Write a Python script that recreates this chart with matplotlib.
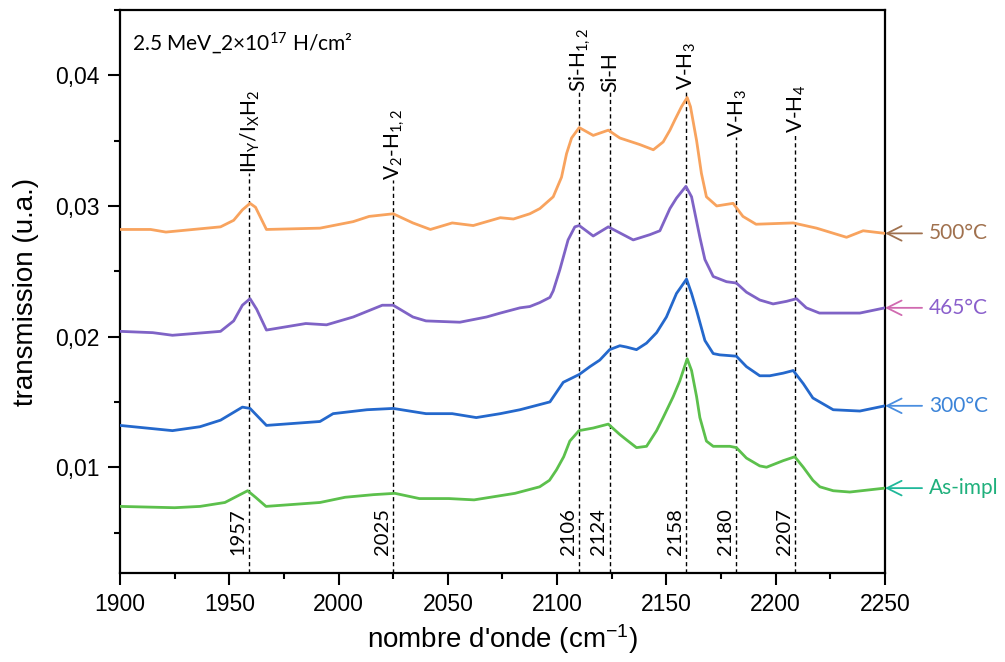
# Spectres IR - recuit H implanté
import matplotlib
matplotlib.use('Agg')
import matplotlib.pyplot as plt
from matplotlib.ticker import MultipleLocator, FuncFormatter

plt.rcParams['font.family'] = ['Liberation Sans', 'DejaVu Sans']
plt.rcParams['mathtext.fontset'] = 'custom'
plt.rcParams['mathtext.rm'] = 'Lato'
plt.rcParams['mathtext.it'] = 'Lato:italic'
plt.rcParams['mathtext.bf'] = 'Lato:bold'
plt.rcParams['mathtext.sf'] = 'Liberation Sans'

# données
x_500 = [1900, 1914, 1921, 1946, 1952, 1956, 1959.5, 1962, 1967, 1991.5, 2006.7, 2014, 2025, 2034,
         2042, 2052, 2061.6, 2074, 2080, 2087.5, 2092.1, 2098.2, 2102, 2104.3, 2106.6, 2110.1,
         2116.5, 2123.4, 2128.7, 2137.8, 2144, 2148.5, 2151.6, 2153.9, 2156.9, 2159.5, 2161,
         2163.8, 2166, 2168.3, 2173, 2180.5, 2185, 2191, 2208, 2218.7, 2232.4, 2240, 2250]
y_500 = [0.0282, 0.0282, 0.0280, 0.0284, 0.0289, 0.0297, 0.0302, 0.0299, 0.0282, 0.0283, 0.0288,
         0.0292, 0.0294, 0.0287, 0.0282, 0.0287, 0.0285, 0.0291, 0.0290, 0.0294, 0.0298, 0.0307,
         0.0322, 0.0340, 0.0352, 0.0360, 0.0354, 0.0358, 0.0352, 0.0347, 0.0343, 0.0349, 0.0358,
         0.0366, 0.0376, 0.0383, 0.0376, 0.0350, 0.0325, 0.0307, 0.0300, 0.0302, 0.0292, 0.0286,
         0.0287, 0.0283, 0.0276, 0.0281, 0.0279]

x_465 = [1900, 1915, 1924, 1946, 1952, 1956, 1959.5, 1962.5, 1967, 1985, 1994.5, 2006.7, 2020, 2025,
         2034, 2040, 2055.5, 2067.7, 2074, 2083, 2087.5, 2092, 2096.7, 2098.2, 2101.2, 2105, 2108.1,
         2110.1, 2116.5, 2123.4, 2134.8, 2142.4, 2147, 2151.6, 2154.6, 2158.9, 2161.5, 2165.3,
         2167.6, 2171.4, 2177.5, 2182, 2186.6, 2192.7, 2198.8, 2205, 2209.5, 2214, 2220, 2238.5,
         2250]
y_465 = [0.0204, 0.0203, 0.0201, 0.0204, 0.0212, 0.0224, 0.0229, 0.0221, 0.0205, 0.0210, 0.0209,
         0.0215, 0.0224, 0.0224, 0.0215, 0.0212, 0.0211, 0.0215, 0.0218, 0.0222, 0.0223, 0.0226,
         0.0230, 0.0235, 0.0251, 0.0274, 0.0284, 0.0285, 0.0277, 0.0284, 0.0274, 0.0278, 0.0281,
         0.0298, 0.0306, 0.0315, 0.0307, 0.0276, 0.0259, 0.0246, 0.0242, 0.0241, 0.0234, 0.0228,
         0.0225, 0.0227, 0.0229, 0.0222, 0.0218, 0.0218, 0.0222]

x_300 = [1900, 1924, 1936.6, 1946, 1956, 1959.5, 1967, 1991.5, 1997.5, 2013, 2025, 2040, 2052, 2063,
         2074, 2083, 2096.7, 2102.8, 2110.1, 2115, 2119.5, 2124, 2128.7, 2131.7, 2136.3, 2140.9,
         2145.5, 2150, 2154.6, 2159.2, 2161.5, 2163.8, 2167.6, 2171.4, 2174.4, 2182, 2186.6,
         2192.7, 2197.3, 2203.4, 2208, 2212.6, 2217, 2226.3, 2238.5, 2250]
y_300 = [0.0132, 0.0128, 0.0131, 0.0136, 0.0146, 0.0145, 0.0132, 0.0135, 0.0141, 0.0144, 0.0145,
         0.0141, 0.0141, 0.0138, 0.0141, 0.0144, 0.0150, 0.0165, 0.0171, 0.0177, 0.0182, 0.0190,
         0.0193, 0.0192, 0.0190, 0.0195, 0.0203, 0.0215, 0.0233, 0.0244, 0.0233, 0.0220, 0.0197,
         0.0187, 0.0186, 0.0185, 0.0177, 0.0170, 0.0170, 0.0172, 0.0174, 0.0164, 0.0153, 0.0144,
         0.0143, 0.0147]

x_asimpl = [1900, 1925, 1936.6, 1948, 1958.4, 1962, 1966.8, 1991.5, 2003, 2016, 2025.8, 2037, 2050.5,
            2062, 2080.7, 2092, 2096.5, 2099.7, 2103, 2105.8, 2110, 2116.5, 2123.4, 2128.7, 2131.7,
            2136.3, 2140.9, 2145.5, 2148.5, 2153.1, 2156.1, 2159.5, 2161.5, 2163.8, 2165.3, 2168.3,
            2171.4, 2179, 2182, 2186.6, 2192.7, 2195.8, 2203.4, 2208.7, 2212.6, 2217, 2220.2, 2226.3,
            2233.9, 2250]
y_asimpl = [0.0070, 0.0069, 0.0070, 0.0073, 0.0082, 0.0077, 0.0070, 0.0073, 0.0077, 0.0079, 0.0080,
            0.0076, 0.0076, 0.0075, 0.0080, 0.0085, 0.0090, 0.0098, 0.0108, 0.0120, 0.0128, 0.0130,
            0.0133, 0.0125, 0.0121, 0.0115, 0.0116, 0.0128, 0.0138, 0.0154, 0.0166, 0.0183, 0.0174,
            0.0154, 0.0138, 0.0120, 0.0116, 0.0116, 0.0115, 0.0107, 0.0101, 0.0100, 0.0105, 0.0108,
            0.0100, 0.0090, 0.0085, 0.0082, 0.0081, 0.0084]

series_labels = ['500°C', '465°C', '300°C', 'As-impl']

# positions des modes (traits pointillés) et étiquettes
mode_pos = [1959, 2025, 2110, 2124, 2159, 2182, 2209]
mode_nums = ['1957', '2025', '2106', '2124', '2158', '2180', '2207']
mode_names = [r'IH$_\mathrm{Y}$/I$_\mathrm{X}$H$_2$', r'V$_2$-H$_{1,2}$', r'Si-H$_{1,2}$', 'Si-H',
              r'V-H$_3$', r'V-H$_3$', r'V-H$_4$']
mode_tops = [0.0325, 0.0320, 0.0387, 0.0387, 0.0389, 0.0353, 0.0356]

# styles
line_cols = ['#f8a35e', '#7f63c6', '#2468cc', '#5cc04c']
text_cols = ['#a0714e', '#8a5fcc', '#3c84d8', '#1fb07c']
arrow_cols = ['#a0714e', '#d06ab0', '#4a8ee0', '#20b89a']

fig = plt.figure(figsize=(10.05, 6.62), dpi=100)
ax = fig.add_axes([0.1194, 0.1344, 0.7612, 0.8505])

xs = [x_500, x_465, x_300, x_asimpl]
ys = [y_500, y_465, y_300, y_asimpl]
for xx, yy, c in zip(xs, ys, line_cols):
    ax.plot(xx, yy, color=c, lw=2.0, zorder=3, solid_joinstyle='round')

ax.set_xlim(1900, 2250)
ax.set_ylim(0.0019, 0.045)

for p, top, name, num in zip(mode_pos, mode_tops, mode_names, mode_nums):
    ax.plot([p, p], [0.0019, top], color='black', lw=1.0, ls=(0, (3, 2.2)), zorder=2)
    ax.text(p + 0.5, top, name, rotation=90, ha='center', va='bottom',
            fontsize=15, family='Lato')
    ax.text(p - 1, 0.0033, num, rotation=90, ha='right', va='bottom',
            fontsize=14.5, family='Lato')

# étiquettes à droite
for yy, lab, tc, ac in zip(ys, series_labels, text_cols, arrow_cols):
    yend = yy[-1]
    ax.annotate(lab, xy=(2250, yend), xycoords='data',
                xytext=(1.0575, yend), textcoords=('axes fraction', 'data'),
                ha='left', va='center', fontsize=15, family='Lato', color=tc,
                annotation_clip=False,
                arrowprops=dict(arrowstyle='->,head_length=0.7,head_width=0.35',
                                color=ac, lw=1.3, shrinkA=3, shrinkB=0))

ax.text(0.016, 0.941, r'2.5 MeV_2×10$^{17}$ H/cm²', transform=ax.transAxes,
        ha='left', va='center', fontsize=15, family='Lato')

ax.xaxis.set_major_locator(MultipleLocator(50))
ax.xaxis.set_minor_locator(MultipleLocator(25))
ax.yaxis.set_major_locator(MultipleLocator(0.01))
ax.yaxis.set_minor_locator(MultipleLocator(0.005))
ax.yaxis.set_major_formatter(FuncFormatter(lambda v, p: f'{v:.2f}'.replace('.', ',')))

ax.tick_params(which='major', direction='out', length=8.5, width=1.5, labelsize=16.5, pad=6)
ax.tick_params(which='minor', direction='out', length=4.5, width=1.5)
for s in ax.spines.values():
    s.set_linewidth(1.6)

ax.set_xlabel(r"nombre d'onde (cm$^{\mathsf{-1}}$)", fontsize=20, labelpad=4)
ax.set_ylabel('transmission (u.a.)', fontsize=20, labelpad=12)

fig.savefig('out.png', dpi=100)
